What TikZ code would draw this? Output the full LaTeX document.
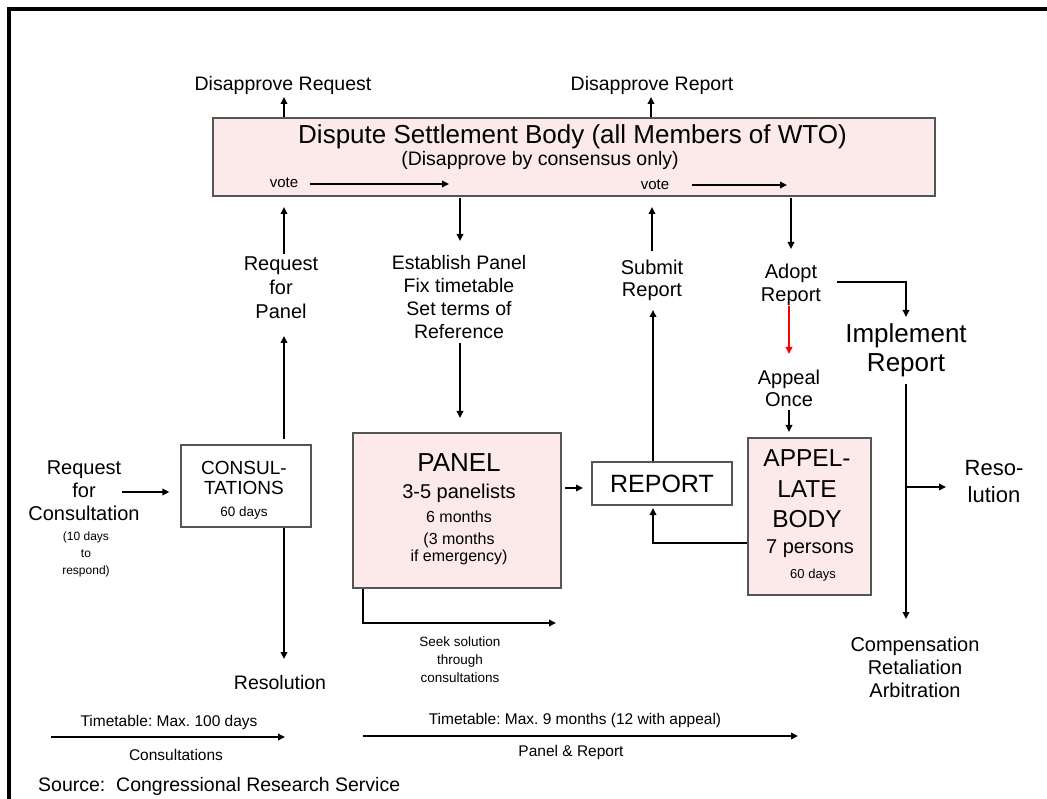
\documentclass[tikz,border=0pt]{standalone}
\usepackage{fontspec}
\setmainfont{Liberation Sans}
\usetikzlibrary{arrows.meta}
\definecolor{pinkfill}{HTML}{FCEAEA}
\definecolor{boxline}{HTML}{555555}
\newcommand{\fs}[2]{\fontsize{#1}{#2}\selectfont}
\frenchspacing
\tikzset{
  arr/.style={line width=1.8pt,-{Triangle[length=7pt,width=6.5pt]}},
  pinkbox/.style={draw=boxline,line width=1.3pt,fill=pinkfill,inner sep=0pt},
  whitebox/.style={draw=boxline,line width=1.3pt,fill=white,inner sep=0pt},
  lbl/.style={align=center,inner sep=0pt},
}
\begin{document}
\begin{tikzpicture}[x=1pt,y=-1pt]
\useasboundingbox (0,0) rectangle (1047,799);
\fill[white] (0,0) rectangle (1047,799);
% frame (top and left)
\draw[line width=4pt] (9,799) -- (9,9) -- (1047,9);

% Dispute Settlement Body
\node[pinkbox,minimum width=722pt,minimum height=78pt] (dsb) at (574,157) {};
\node[lbl,font=\fs{26}{30}] (dsbt) at (572.5,137) {Dispute Settlement Body (all Members of WTO)};
\node[lbl,font=\fs{19.5}{23}] (dsbs) at (540,160) {(Disapprove by consensus only)};
\node[lbl,font=\fs{15}{18}] (vote1) at (284,183) {vote};
\node[lbl,font=\fs{15}{18}] (vote2) at (655,185) {vote};
\coordinate (v1a) at (310,184); \coordinate (v1b) at (449,184);
\coordinate (v2a) at (692,185); \coordinate (v2b) at (787,185);
\draw[arr] (v1a) -- (v1b);
\draw[arr] (v2a) -- (v2b);

\node[lbl,font=\fs{19.5}{23}] (dreq) at (283,85) {Disapprove Request};
\node[lbl,font=\fs{19.5}{23}] (drep) at (652,85) {Disapprove Report};
\draw[arr] (dsb.north -| 284,0) -- (284,97);
\draw[arr] (dsb.north -| 651,0) -- (651,97);

% Request for panel
\node[lbl,font=\fs{20}{24}] (rfp) at (281,288) {Request\\for\\Panel};
\draw[arr] (284,254) -- (284,207);

% Establish Panel
\node[lbl,font=\fs{19.5}{23}] (est) at (459,297) {Establish Panel\\Fix timetable\\Set terms of\\Reference};
\draw[arr] (dsb.south -| 460,0) ++(0,1) -- (460,241);
\draw[arr] (460,343) -- (460,418);

% Submit report
\node[lbl,font=\fs{20}{22}] (sub) at (652,280) {Submit\\Report};
\draw[arr] (652,251) -- (652,207);

% Adopt report
\node[lbl,font=\fs{20}{23}] (adopt) at (791,285) {Adopt\\Report};
\draw[arr] (dsb.south -| 791,0) ++(0,1) -- (791,249);

% Implement report
\node[lbl,font=\fs{26}{29}] (impl) at (906,350) {Implement\\Report};
\draw[arr] (837,282) -- (906,282) -- (906,317);

% Appeal once
\node[lbl,font=\fs{20}{22}] (appeal) at (789,388) {Appeal\\Once};
\draw[line width=1.8pt,red,-{Triangle[length=7pt,width=6.5pt]}] (789,306) -- (789,354);

% Boxes
\node[whitebox,minimum width=130pt,minimum height=82pt] (cons) at (246,486) {};
\node[lbl,font=\fs{19}{20}] (constitle) at (244,478) {CONSUL-\\TATIONS};
\node[lbl,font=\fs{13.5}{16}] (cons60) at (244,513) {60 days};

\node[pinkbox,minimum width=208pt,minimum height=155pt] (panel) at (457,510.5) {};
\node[lbl,font=\fs{26}{30}] (ptitle) at (459,463) {PANEL};
\node[lbl,font=\fs{20}{24}] (pp) at (459,493) {3-5 panelists};
\node[lbl,font=\fs{16}{18}] (pm) at (459,517) {6 months};
\node[lbl,font=\fs{16}{17.5}] (pm3) at (459,549) {(3 months\\if emergency)};

\node[whitebox,minimum width=140pt,minimum height=43pt,font=\fs{25}{28}] (report) at (662,483.5) {REPORT};

\node[pinkbox,minimum width=123pt,minimum height=157pt] (app) at (809.5,516.5) {};
\node[lbl,font=\fs{24.5}{30.5}] (apptitle) at (807,489) {APPEL-\\LATE\\BODY};
\node[lbl,font=\fs{20}{24}] (app7) at (810,549) {7 persons};
\node[lbl,font=\fs{13}{16}] (app60) at (813,575) {60 days};

% Request for consultation
\node[lbl,font=\fs{20}{23}] (rfc) at (84,491) {Request\\for\\Consultation};
\node[lbl,font=\fs{12}{17}] (rfc10) at (86,554) {(10 days\\to\\respond)};
\draw[arr,shorten >=11pt] (122,492) -- (cons.west |- 0,492);

% consultations up to request for panel
\draw[arr] (cons.north -| 284,0) ++(0,-5) -- (284,336);
% consultations down to resolution
\node[lbl,font=\fs{19.5}{23}] (res1) at (280,683) {Resolution};
\draw[arr] (cons.south -| 284,0) -- (284,659);

% panel to report
\draw[arr] (565,488) -- (583,488);
% report up to submit report
\draw[arr] (report.north -| 653,0) -- (653,310);
% appellate back to report
\draw[arr] (app.west |- 0,543) -- (653,543) -- (653,508);
% appeal once to appellate
\draw[arr] (789,410) -- (789,432);

% Panel seek solution
\draw[arr] (panel.south -| 363,0) -- (363,623) -- (556,623);
\node[lbl,font=\fs{13.5}{18}] (seek) at (460,660) {Seek solution\\through\\consultations};

% implement down
\node[lbl,font=\fs{22}{27}] (res2) at (994,482) {Reso-\\lution};
\draw[arr] (906,384) -- (906,619);
\draw[arr] (906,487) -- (946,487);
\node[lbl,font=\fs{20}{23}] (comp) at (915,667) {Compensation\\Retaliation\\Arbitration};

% timelines
\node[lbl,font=\fs{15.5}{18}] (t1) at (169,722) {Timetable: Max. 100 days};
\coordinate (t1a) at (51,737); \coordinate (t1b) at (285,737);
\draw[arr] (t1a) -- (t1b);
\node[lbl,font=\fs{15.5}{18}] (t1c) at (176,755) {Consultations};

\node[lbl,font=\fs{15.5}{18}] (t2) at (575,720) {Timetable: Max. 9 months (12 with appeal)};
\coordinate (t2a) at (363,736); \coordinate (t2b) at (798,736);
\draw[arr] (t2a) -- (t2b);
\node[lbl,font=\fs{15.5}{18}] (t2c) at (571,752) {Panel \& Report};

\node[lbl,font=\fs{19.5}{23},anchor=west] (src) at (38,786) {Source:\ \ Congressional Research Service};
\end{tikzpicture}
\end{document}
